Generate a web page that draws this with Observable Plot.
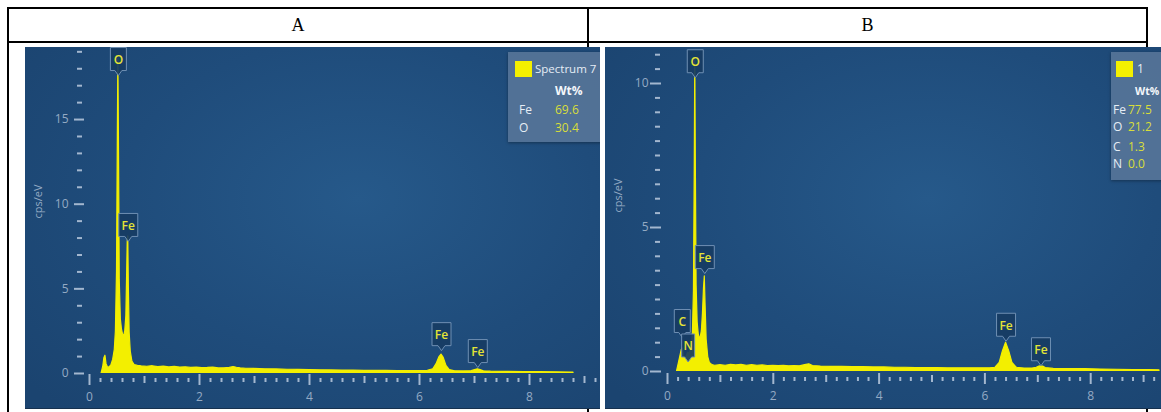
<!DOCTYPE html>
<html>
<head>
<meta charset="utf-8">
<script src="https://cdn.jsdelivr.net/npm/d3@7"></script>
<script src="https://cdn.jsdelivr.net/npm/@observablehq/plot@0.6"></script>
<style>
  html, body { margin: 0; padding: 0; background: #fff; width: 1161px; height: 412px; overflow: hidden; }
  #root { position: relative; width: 1161px; height: 412px; }
  .ln { position: absolute; background: #000; }
  .hdr { position: absolute; top: 9px; height: 32px; line-height: 32px; text-align: center;
         font-family: "Liberation Serif", "DejaVu Serif", serif; font-size: 18px; color: #000; }
  .panel { position: absolute; top: 47px; height: 361px; overflow: hidden; z-index: 2;
           background: radial-gradient(ellipse 75% 80% at 58% 42%, #26598a 0%, #1f4c7b 55%, #1b4470 100%);
           border-bottom: 1px solid #16314f; }
  .panel svg { position: absolute; left: 0; top: 0; }
  .legend { position: absolute; background: rgba(86,116,152,0.92); box-shadow: 0 1px 3px rgba(0,0,0,0.35);
            font-family: "Open Sans", "Noto Sans", sans-serif; font-size: 12px; color: #e6edf5; }
  .legend span { position: absolute; white-space: nowrap; line-height: 14px; }
  .legend .sw { background: #f4f000; width: 17px; height: 16px; }
  .legend .val { color: #d9de3a; }
  .legend .hd { font-weight: 700; color: #f4f7fb; }
</style>
</head>
<body>
<div id="root">
  <div class="ln" style="left:7px;top:7px;width:1141px;height:2px"></div>
  <div class="ln" style="left:7px;top:41px;width:1141px;height:2px"></div>
  <div class="ln" style="left:7px;top:7px;width:2px;height:405px"></div>
  <div class="ln" style="left:587px;top:7px;width:2px;height:405px"></div>
  <div class="ln" style="left:1146px;top:7px;width:2px;height:405px"></div>
  <div class="hdr" id="hA" style="left:9px;width:578px"></div>
  <div class="hdr" id="hB" style="left:589px;width:557px"></div>
  <div class="panel" id="pA" style="left:25px;width:575px"></div>
  <div class="panel" id="pB" style="left:605px;width:556px"></div>
</div>
<script>
// ---------- data ----------
const panelTitles = ["A", "B"];

// spectrum A: [energy keV, counts cps/eV]
const spectrumA = [
  [0.22,0],[0.25,0.4],[0.27,0.9],[0.29,1.05],[0.31,0.55],[0.34,0.32],[0.37,0.38],[0.40,0.5],[0.43,0.8],
  [0.46,1.4],[0.48,2.5],[0.50,6],[0.515,14],[0.525,18.6],[0.535,14],[0.55,5.5],[0.57,3.2],[0.59,2.6],
  [0.61,2.3],[0.63,2.2],[0.65,2.5],[0.67,3.4],[0.685,6],[0.695,7.8],[0.705,8.1],[0.715,5.2],[0.73,2.4],
  [0.75,1.3],[0.78,0.7],[0.82,0.5],[0.88,0.45],[0.95,0.42],[1.05,0.4],[1.15,0.43],[1.25,0.38],[1.35,0.41],
  [1.45,0.36],[1.55,0.39],[1.65,0.35],[1.75,0.37],[1.85,0.33],[1.95,0.35],[2.05,0.32],[2.15,0.33],
  [2.25,0.35],[2.35,0.3],[2.45,0.31],[2.55,0.33],[2.62,0.38],[2.68,0.34],[2.75,0.3],[2.85,0.28],
  [3.0,0.27],[3.2,0.25],[3.4,0.24],[3.6,0.22],[3.8,0.21],[4.0,0.2],[4.2,0.19],[4.4,0.18],[4.6,0.17],
  [4.8,0.17],[5.0,0.16],[5.2,0.15],[5.4,0.15],[5.6,0.14],[5.8,0.14],[6.0,0.14],[6.15,0.16],[6.25,0.25],
  [6.31,0.55],[6.36,0.95],[6.40,1.12],[6.44,0.92],[6.49,0.45],[6.55,0.2],[6.65,0.13],[6.8,0.12],
  [6.95,0.14],[7.01,0.2],[7.06,0.25],[7.11,0.2],[7.17,0.13],[7.3,0.11],[7.6,0.1],[7.9,0.09],
  [8.2,0.08],[8.5,0.07],[8.8,0.05]
];

// spectrum B
const spectrumB = [
  [0.18,0],[0.21,0.25],[0.24,0.5],[0.27,0.75],[0.29,0.8],[0.31,0.55],[0.34,0.45],[0.37,0.55],[0.39,0.65],
  [0.42,0.6],[0.45,0.8],[0.48,1.3],[0.50,2.8],[0.515,7],[0.525,10.9],[0.535,7.5],[0.55,3],[0.57,1.7],
  [0.59,1.3],[0.61,1.15],[0.63,1.2],[0.65,1.4],[0.67,2.0],[0.69,2.9],[0.705,3.3],[0.72,2.3],[0.74,1.1],
  [0.77,0.5],[0.80,0.3],[0.85,0.22],[0.9,0.2],[1.0,0.22],[1.1,0.2],[1.2,0.23],[1.3,0.21],[1.4,0.23],
  [1.5,0.2],[1.6,0.22],[1.7,0.2],[1.8,0.21],[1.9,0.19],[2.0,0.2],[2.1,0.19],[2.2,0.2],[2.3,0.18],
  [2.4,0.19],[2.5,0.18],[2.6,0.22],[2.68,0.25],[2.75,0.19],[2.9,0.17],[3.1,0.16],[3.3,0.16],[3.5,0.15],
  [3.7,0.15],[3.9,0.14],[4.1,0.14],[4.3,0.13],[4.5,0.13],[4.7,0.12],[4.9,0.12],[5.1,0.12],[5.3,0.11],
  [5.5,0.11],[5.7,0.11],[5.9,0.11],[6.1,0.11],[6.2,0.13],[6.28,0.3],[6.34,0.7],[6.40,1.0],[6.46,0.7],
  [6.52,0.3],[6.6,0.13],[6.75,0.1],[6.9,0.1],[6.98,0.13],[7.03,0.17],[7.06,0.18],[7.10,0.17],
  [7.15,0.12],[7.3,0.09],[7.6,0.08],[7.9,0.08],[8.2,0.07],[8.5,0.06],[8.8,0.05],[9.1,0.05],[9.3,0.04]
];

// peak labels: element, energy (keV), pointer-tip height (cps/eV)
const peakElementsA = ["O", "Fe", "Fe", "Fe"];
const peakEnergyA   = [0.525, 0.705, 6.40, 7.06];
const peakTipA      = [17.6, 7.8, 1.35, 0.35];

const peakElementsB = ["O", "Fe", "C", "N", "Fe", "Fe"];
const peakEnergyB   = [0.525, 0.705, 0.28, 0.39, 6.40, 7.06];
const peakTipB      = [10.2, 3.4, 1.18, 0.33, 1.05, 0.2];

// legends
const legendNameA = "Spectrum 7";
const legendElementsA = ["Fe", "O"];
const legendWtA = ["69.6", "30.4"];
const legendNameB = "1";
const legendElementsB = ["Fe", "O", "C", "N"];
const legendWtB = ["77.5", "21.2", "1.3", "0.0"];

// axes
const yAxisLabel = "cps/eV";
const xLabelTicks = [0, 2, 4, 6, 8];
const xOddTicks = [1, 3, 5, 7, 9];
const xMinorTicks = d3.range(0, 9.41, 0.2).map(v => +v.toFixed(1)).filter(v => Math.abs(v - Math.round(v)) > 1e-6);
const yMajorA = [0, 5, 10, 15];
const yMinorA = d3.range(1, 20, 1).filter(v => v % 5 !== 0);
const yMajorB = [0, 5, 10];
const yMinorB = d3.range(0.5, 11.01, 0.5).filter(v => v % 5 !== 0);

// ---------- drawing ----------
const YELLOW = "#f3ef00";
const TICK = "#a3b7cf";
const TICKTEXT = "#94aac4";
const FONT = "Open Sans, Noto Sans, sans-serif";
const boxW = {O: 16, Fe: 19, C: 16, N: 13};
const BOXH = 23;

function boxSymbol(w, h) {
  return {
    draw(ctx) {
      const t = 5, l = -w / 2, r = w / 2, b = -t, top = -t - h;
      ctx.moveTo(0, 0);
      ctx.lineTo(-3.5, b);
      ctx.lineTo(l, b);
      ctx.lineTo(l, top);
      ctx.lineTo(r, top);
      ctx.lineTo(r, b);
      ctx.lineTo(3.5, b);
      ctx.closePath();
    }
  };
}

function peakMarks(elements, energies, tips) {
  const rows = elements.map((el, i) => ({el, e: energies[i], tip: tips[i]}));
  const marks = [];
  for (const d of rows) {
    marks.push(Plot.dot([d], {
      x: "e", y: "tip", r: 6, symbol: boxSymbol(boxW[d.el], BOXH),
      fill: "#173c63", fillOpacity: 0.92, stroke: "#6f8fb3", strokeWidth: 1
    }));
  }
  marks.push(Plot.text(rows, {
    x: "e", y: "tip", text: "el", dy: -(5 + BOXH / 2) + 1,
    fill: "#e4e436", fontSize: 12, fontWeight: 600, fontFamily: FONT
  }));
  return marks;
}

function spectrumPlot(cfg) {
  const {spectrum, width, marginLeft, marginBottom, xMax, yMax, yMajor, yMinor,
         elements, energies, tips, ym, xs, labelPad, labelDx, labelDy} = cfg;
  return Plot.plot({
    width, height: 361,
    marginLeft, marginRight: 0, marginTop: 0, marginBottom,
    x: {domain: [0, xMax], axis: null},
    y: {domain: [0, yMax], axis: null},
    style: {background: "transparent", fontFamily: FONT, fontSize: "12px", overflow: "visible"},
    marks: [
      // y axis
      Plot.axisY(yMinor, {anchor: "left", tickSize: 5, dx: -ym.minorDx, fill: "none", stroke: TICK, strokeWidth: 2, label: null}),
      Plot.axisY(yMajor, {anchor: "left", tickSize: ym.majorSize, dx: -ym.majorDx, fill: "none", stroke: TICK, strokeWidth: 2, label: null}),
      Plot.axisY(yMajor, {anchor: "left", tickSize: 0, tickPadding: labelPad, fill: TICKTEXT, fontSize: 12, label: null}),
      Plot.text([yAxisLabel], {text: d => d, frameAnchor: "left", rotate: -90, dx: labelDx, dy: labelDy,
                                fill: TICKTEXT, fontSize: 11, fontFamily: FONT}),
      // x axis
      Plot.axisX(xMinorTicks, {anchor: "bottom", tickSize: 4, dy: xs.minor, fill: "none", stroke: TICK, strokeWidth: 2, label: null}),
      Plot.axisX(xOddTicks, {anchor: "bottom", tickSize: 7, dy: xs.odd, fill: "none", stroke: TICK, strokeWidth: 2, label: null}),
      Plot.axisX(xLabelTicks, {anchor: "bottom", tickSize: 11, dy: xs.even, fill: "none", stroke: TICK, strokeWidth: 2, label: null}),
      Plot.axisX(xLabelTicks, {anchor: "bottom", tickSize: 0, tickPadding: xs.pad, fill: TICKTEXT, fontSize: 12, label: null}),
      // spectrum
      Plot.areaY(spectrum, {x: d => d[0], y: d => d[1], fill: YELLOW, stroke: YELLOW, strokeWidth: 1.2, clip: true}),
      ...peakMarks(elements, energies, tips)
    ]
  });
}

function legend(parent, style, name, elements, values, layout) {
  const box = document.createElement("div");
  box.className = "legend";
  Object.assign(box.style, style);
  let html = `<span class="sw" style="left:${layout.sw[0]}px;top:${layout.sw[1]}px"></span>`;
  html += `<span style="left:${layout.name[0]}px;top:${layout.name[1]}px;font-size:${layout.nameSize}px">${name}</span>`;
  html += `<span class="hd" style="left:${layout.hd[0]}px;top:${layout.hd[1]}px;font-size:${layout.hdSize}px">Wt%</span>`;
  elements.forEach((el, i) => {
    const top = layout.rows[i];
    html += `<span style="left:${layout.el}px;top:${top}px">${el}</span>`;
    html += `<span class="val" style="left:${layout.val}px;top:${top}px">${values[i]}</span>`;
  });
  box.innerHTML = html;
  parent.appendChild(box);
}

document.getElementById("hA").textContent = panelTitles[0];
document.getElementById("hB").textContent = panelTitles[1];

const pA = document.getElementById("pA");
pA.appendChild(spectrumPlot({
  spectrum: spectrumA, width: 575, marginLeft: 64, marginBottom: 35,
  xMax: (575 - 64) / 55, yMax: 326 / 16.93,
  yMajor: yMajorA, yMinor: yMinorA,
  ym: {minorDx: 7, majorSize: 10, majorDx: 5},
  xs: {minor: 5, odd: 3, even: 1, pad: 19},
  labelPad: 21, labelDx: -51, labelDy: 8,
  elements: peakElementsA, energies: peakEnergyA, tips: peakTipA
}));
legend(pA, {left: "483px", top: "5px", width: "140px", height: "90px"},
  legendNameA, legendElementsA, legendWtA,
  {sw: [7, 9], name: [27, 10], nameSize: 11.5, hd: [47, 32], hdSize: 12, el: 11, val: 47, rows: [51, 69]});

const pB = document.getElementById("pB");
pB.appendChild(spectrumPlot({
  spectrum: spectrumB, width: 556, marginLeft: 62, marginBottom: 37,
  xMax: (556 - 62) / 52.9, yMax: 324 / 28.8,
  yMajor: yMajorB, yMinor: yMinorB,
  ym: {minorDx: 7, majorSize: 11, majorDx: 6},
  xs: {minor: 6, odd: 4, even: 2, pad: 20},
  labelPad: 19, labelDx: -49, labelDy: 3,
  elements: peakElementsB, energies: peakEnergyB, tips: peakTipB
}));
legend(pB, {left: "506px", top: "5px", width: "80px", height: "128px"},
  legendNameB, legendElementsB, legendWtB,
  {sw: [5, 9], name: [26, 10], nameSize: 12, hd: [24, 32], hdSize: 10.5, el: 2, val: 17, rows: [51, 68, 88, 105]});
</script>
</body>
</html>
